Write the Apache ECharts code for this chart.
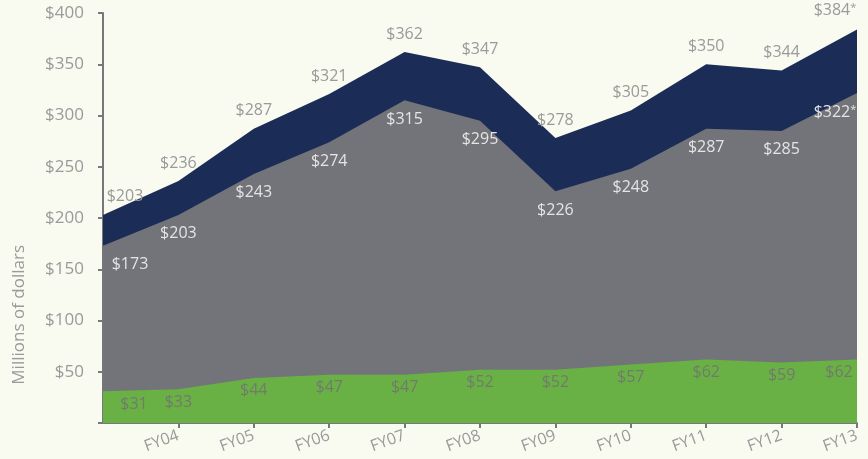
<!DOCTYPE html>
<html>
<head>
<meta charset="utf-8">
<script src="https://cdn.jsdelivr.net/npm/echarts@6/dist/echarts.min.js"></script>
<style>
  html, body { margin: 0; padding: 0; background: #f9faf0; }
  #chart { width: 868px; height: 459px; }
</style>
</head>
<body>
<div id="chart"></div>
<script>
// fiscal years (first one has no label on the axis)
var years = ['FY03', 'FY04', 'FY05', 'FY06', 'FY07', 'FY08', 'FY09', 'FY10', 'FY11', 'FY12', 'FY13'];
var totalVals = [203, 236, 287, 321, 362, 347, 278, 305, 350, 344, 384];
var grayVals = [173, 203, 243, 274, 315, 295, 226, 248, 287, 285, 322];
var greenVals = [31, 33, 44, 47, 47, 52, 52, 57, 62, 59, 62];
// * = estimate (only on the top two layers)
var estimated = [false, false, false, false, false, false, false, false, false, false, true];

var FONT = '"Open Sans", Lato, sans-serif';

var chart = echarts.init(document.getElementById('chart'), null, { renderer: 'canvas' });

function buildData(vals, edgeShift) {
  return vals.map(function (v, i) {
    var item = { value: v };
    if (i === 0) item.label = { offset: [edgeShift[0], 0] };
    if (i === vals.length - 1) item.label = { offset: [edgeShift[1], 0] };
    return item;
  });
}

function labelCfg(pos, dist, color, star) {
  return {
    show: true,
    position: pos,
    distance: dist,
    formatter: function (p) {
      return '{a|$' + p.value + '}' + (star && estimated[p.dataIndex] ? '{s|*}' : '');
    },
    rich: {
      a: { fontFamily: FONT, fontSize: 16, color: color },
      s: { fontFamily: FONT, fontSize: 11, color: color, verticalAlign: 'top', padding: [0, 0, 6, 0] }
    }
  };
}

var option = {
  backgroundColor: '#f9faf0',
  animation: false,
  grid: { left: 103, right: 11, top: 13, bottom: 36 },
  xAxis: {
    type: 'category',
    boundaryGap: false,
    data: years,
    axisLine: { lineStyle: { color: '#77787c', width: 2 } },
    axisTick: { show: true, length: 5, lineStyle: { color: '#77787c', width: 2 } },
    axisLabel: {
      interval: function (i) { return i > 0; },
      rotate: 20,
      margin: 12,
      color: '#9a9a9a',
      fontFamily: FONT,
      fontSize: 16
    },
    splitLine: { show: false }
  },
  yAxis: {
    type: 'value',
    min: 0,
    max: 400,
    interval: 50,
    axisLine: { show: true, lineStyle: { color: '#77787c', width: 2 } },
    axisTick: { show: true, length: 5, lineStyle: { color: '#77787c', width: 2 } },
    axisLabel: {
      margin: 19,
      color: '#9a9a9a',
      fontFamily: FONT,
      fontSize: 17,
      formatter: function (v) { return v === 0 ? '' : '$' + v; }
    },
    splitLine: { show: false }
  },
  graphic: [{
    type: 'text',
    left: 11,
    top: 245,
    rotation: Math.PI / 2,
    style: {
      text: 'Millions of dollars',
      fill: '#9a9a9a',
      font: '17px ' + FONT
    }
  }],
  series: [
    {
      name: 'total',
      type: 'line',
      data: buildData(totalVals, [22, -22]),
      symbol: 'circle',
      symbolSize: 0,
      showSymbol: true,
      lineStyle: { width: 0 },
      areaStyle: { color: '#1b2d57', opacity: 1 },
      label: labelCfg('top', 10, '#9a9a9a', true),
      z: 1
    },
    {
      name: 'gray',
      type: 'line',
      data: buildData(grayVals, [27, -22]),
      symbol: 'circle',
      symbolSize: 0,
      showSymbol: true,
      lineStyle: { width: 0 },
      areaStyle: { color: '#737479', opacity: 1 },
      label: labelCfg('bottom', 11, '#e4e4e4', true),
      z: 2
    },
    {
      name: 'green',
      type: 'line',
      data: buildData(greenVals, [31, -18]),
      symbol: 'circle',
      symbolSize: 0,
      showSymbol: true,
      lineStyle: { width: 0 },
      areaStyle: { color: '#69b145', opacity: 1 },
      label: labelCfg('bottom', 5, '#727a6c', false),
      z: 3
    }
  ]
};

chart.setOption(option);
</script>
</body>
</html>
